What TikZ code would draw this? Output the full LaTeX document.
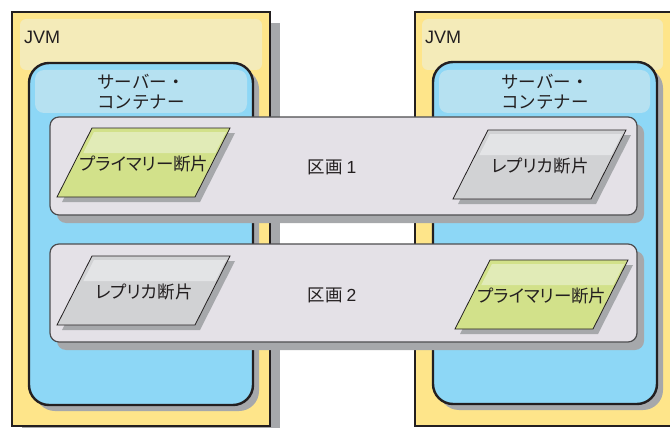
\documentclass[tikz,border=0pt]{standalone}
\usepackage{fontspec}
\setmainfont{Noto Sans CJK JP}
\newfontfamily\latinfont{Liberation Sans}
\newfontfamily\shardfont[RawFeature=+palt]{Noto Sans CJK JP}
\usetikzlibrary{positioning}

\definecolor{jvmyellow}{HTML}{FEE58A}
\definecolor{jvmlight}{HTML}{F4EBB9}
\definecolor{srvblue}{HTML}{8DD7F6}
\definecolor{srvlight}{HTML}{B6E1F1}
\definecolor{zonegray}{HTML}{E4E1E7}
\definecolor{zoneline}{HTML}{4D4D4F}
\definecolor{shadowgray}{HTML}{A6A8AB}
\definecolor{linedark}{HTML}{231F20}
\definecolor{textdark}{HTML}{231F20}
\definecolor{primegreen}{HTML}{D2E18A}
\definecolor{primelight}{HTML}{E1EBB7}
\definecolor{replgray}{HTML}{D1D2D4}
\definecolor{repllight}{HTML}{E3E4E6}

% one shard: name, x and y of top left corner, fill, band colour, text
\newcommand{\shard}[6]{%
  \fill[shadowgray] (#2+5,#3+5) -- ++(138,0) -- ++(-35,69) -- ++(-138,0) -- cycle;
  \filldraw[fill=#4,draw=linedark,line width=0.8pt] (#2,#3) -- ++(138,0) -- ++(-35,69) -- ++(-138,0) -- cycle;
  \fill[#5] (#2+2,#3+4) -- ++(132,0) -- ++(-10.7,21) -- ++(-132,0) -- cycle;
  \node[shardtext] (#1) at (#2+52,#3+36) {#6};
}

\begin{document}
\begin{tikzpicture}[x=1pt,y=-1pt,
  jvmbox/.style={fill=jvmyellow,draw=linedark,line width=2.4pt},
  jvmband/.style={fill=jvmlight,rounded corners=6pt},
  srvbox/.style={fill=srvblue,draw=linedark,line width=2.4pt,rounded corners=20pt},
  srvband/.style={fill=srvlight,rounded corners=9pt},
  zonebox/.style={fill=zonegray,draw=zoneline,line width=1.2pt,rounded corners=9pt},
  boxtext/.style={font=\fontsize{17.5}{20}\selectfont,text=textdark,align=center,inner sep=0pt},
  shardtext/.style={font=\shardfont\fontsize{17.5}{18}\selectfont,text=textdark,inner sep=0pt}]

  \useasboundingbox (0,0) rectangle (670,428);
  \clip (0,0) rectangle (670,428);

  % left JVM
  \fill[shadowgray] (22,23) rectangle (280,440);
  \draw[jvmbox] (12,12) rectangle (270,426);
  \fill[jvmband] (20,19) rectangle (262,70);
  \fill[shadowgray,rounded corners=20pt] (35,69) rectangle (259,411);
  \draw[srvbox] (29,63) rectangle (253,405);
  \fill[srvband] (35,70) rectangle (247,113);
  \node[boxtext,anchor=west] (jvmL) at (24,37) {\latinfont\fontsize{18}{20}\selectfont JVM};
  \node[boxtext] (srvL) at (141,92) {サーバー・\\コンテナー};

  % right JVM
  \draw[jvmbox] (415,12) rectangle (672,426);
  \fill[jvmband] (422,19) rectangle (663,70);
  \fill[shadowgray,rounded corners=20pt] (439,68) rectangle (663,410);
  \draw[srvbox] (433,62) rectangle (657,404);
  \fill[srvband] (439,70) rectangle (650,113);
  \node[boxtext,anchor=west] (jvmR) at (425,37) {\latinfont\fontsize{18}{20}\selectfont JVM};
  \node[boxtext] (srvR) at (545,92) {サーバー・\\コンテナー};

  % partitions
  \fill[shadowgray,rounded corners=9pt] (57,124) rectangle (644,223);
  \draw[zonebox] (50,117) rectangle (637,215);
  \fill[shadowgray,rounded corners=9pt] (57,251) rectangle (644,350);
  \draw[zonebox] (50,244) rectangle (637,342);
  \node[boxtext] (zone1) at (332,167) {区画 {\latinfont 1}};
  \node[boxtext] (zone2) at (332,295) {区画 {\latinfont 2}};

  % shards
  \shard{pri1}{92}{128}{primegreen}{primelight}{プライマリー断片}
  \shard{rep1}{488}{130}{replgray}{repllight}{レプリカ断片}
  \shard{rep2}{92}{256}{replgray}{repllight}{レプリカ断片}
  \shard{pri2}{490}{260}{primegreen}{primelight}{プライマリー断片}

\end{tikzpicture}
\end{document}
